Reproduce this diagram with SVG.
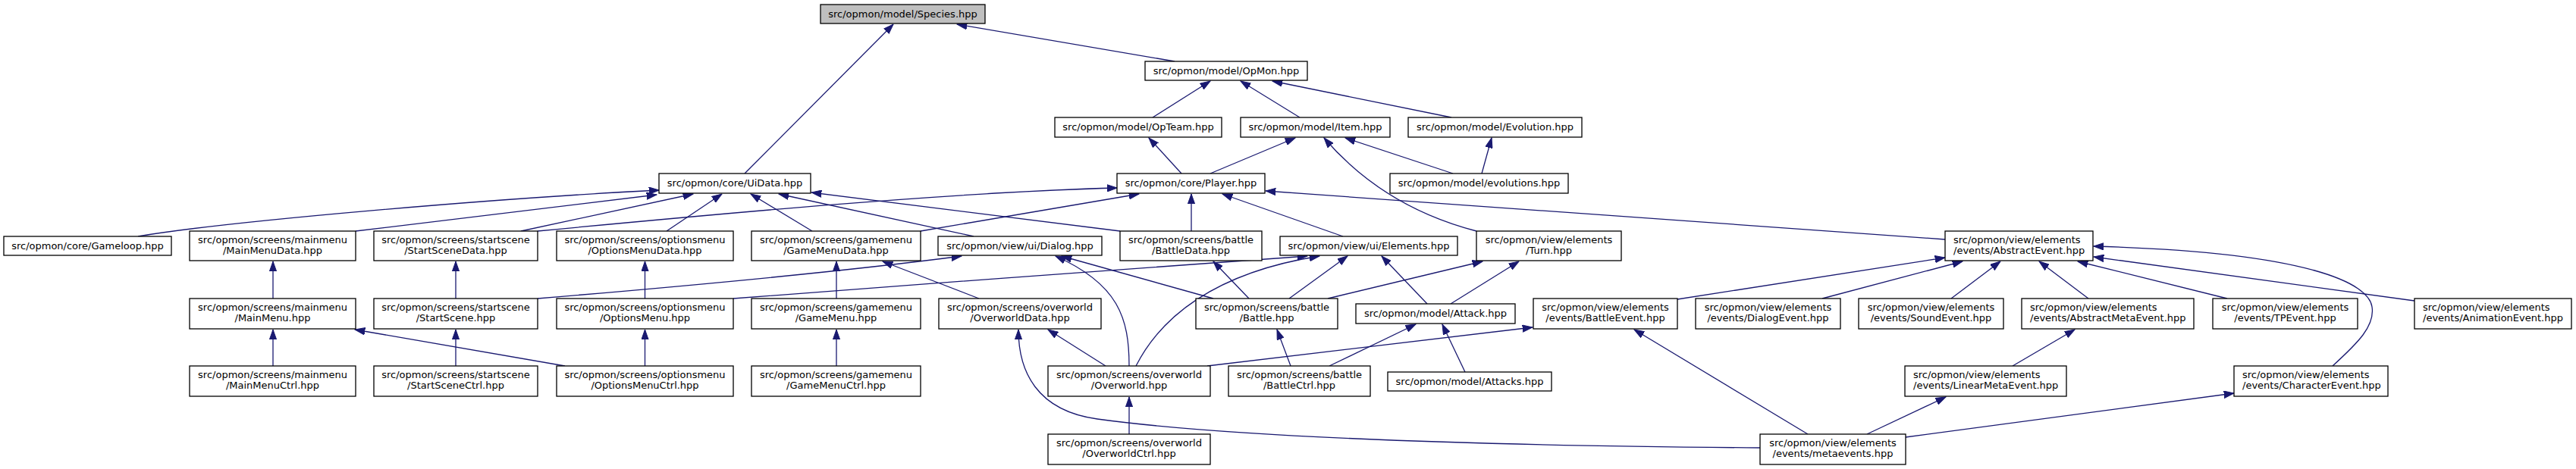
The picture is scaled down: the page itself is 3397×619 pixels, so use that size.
<svg xmlns="http://www.w3.org/2000/svg" width="3397" height="619" viewBox="0 0 3397 619">
<style>
.n rect{fill:#fff;stroke:#000;stroke-width:1.3}
.n text{font-family:"DejaVu Sans",sans-serif;font-size:13px;fill:#000}
.c{text-anchor:middle}
.e path{fill:none;stroke:#191970;stroke-width:1.3;marker-end:url(#a)}
</style>
<defs>
<marker id="a" markerUnits="userSpaceOnUse" viewBox="0 -5 14 10" markerWidth="14" markerHeight="10" refX="13.3" refY="0" orient="auto">
<path d="M0,-4.7 L13.3,0 L0,4.7 Z" fill="#191970" stroke="#191970" stroke-width="1"/>
</marker>
</defs>
<rect width="3397" height="619" fill="#fff"/>
<g id="edges" class="e">
<path d="M982,229 L1178,32"/>
<path d="M1549,81 L1262,32"/>
<path d="M1520,155 L1596,107"/>
<path d="M1714,155 L1636,107"/>
<path d="M1914,155 L1678,107"/>
<path d="M1558,229 L1515,182"/>
<path d="M1596,229 L1708,182"/>
<path d="M1916,229 L1774,182"/>
<path d="M1954,229 L1967,182"/>
<path d="M1947,305 C1870,285 1800,245 1746,182"/>
<path d="M2565,316 L1669,252"/>
<path d="M182,312 C300,292 650,262 869,251"/>
<path d="M469,305 L866,257"/>
<path d="M687,305 L914,256"/>
<path d="M879,305 L952,256"/>
<path d="M1071,305 L990,256"/>
<path d="M1284,312 L1027,256"/>
<path d="M1477,305 L1070,254"/>
<path d="M709,305 C950,282 1250,254 1473,248"/>
<path d="M1214,305 L1502,256"/>
<path d="M1571,305 L1571,256"/>
<path d="M1771,312 L1612,256"/>
<path d="M1103,394 L1103,345"/>
<path d="M1291,394 L1164,345"/>
<path d="M360,394 L360,345"/>
<path d="M360,483 L360,435"/>
<path d="M745,483 L468,435"/>
<path d="M601,394 L601,345"/>
<path d="M601,483 L601,435"/>
<path d="M850.5,394 L850.5,345"/>
<path d="M850.5,483 L850.5,435"/>
<path d="M1103,483 L1103,435"/>
<path d="M709,394 C900,378 1100,360 1268,338"/>
<path d="M967,394 C1200,375 1500,355 1724,338"/>
<path d="M1498,483 C1530,420 1600,360 1740,338"/>
<path d="M1700,394 L1777,338"/>
<path d="M1882,401 L1822,338"/>
<path d="M1600,394 L1400,338"/>
<path d="M1489,483 C1489,420 1475,375 1392,338"/>
<path d="M1751,394 L1955,345"/>
<path d="M1913,401 L2003,345"/>
<path d="M1647,394 L1600,345"/>
<path d="M1458,483 L1382,435"/>
<path d="M2321,591 C1900,588 1600,574 1447,553 C1367,542 1343,490 1343,435"/>
<path d="M1489,573 L1489,524"/>
<path d="M1592,483 L2021,432"/>
<path d="M1702,483 L1684,435"/>
<path d="M1753,483 L1867,428"/>
<path d="M1932,491 L1902,428"/>
<path d="M2384,573 L2155,435"/>
<path d="M2212,395 L2565,340"/>
<path d="M2403,394 L2588,345"/>
<path d="M2573,394 L2638,345"/>
<path d="M2754,394 L2689,345"/>
<path d="M2937,394 L2740,345"/>
<path d="M3184,397 L2761,339"/>
<path d="M3076,483 C3110,452 3132,430 3128,405 C3124,375 3050,333 2761,325"/>
<path d="M2654,483 L2736,435"/>
<path d="M2462,573 L2566,524"/>
<path d="M2513,577 L2946,519"/>
</g>
<g id="species" class="n"><rect x="1082" y="6" width="217" height="25" style="fill:#bfbfbf"/><text class="c" x="1190.5" y="23">src/opmon/model/Species.hpp</text></g>
<g id="opmon" class="n"><rect x="1510" y="81" width="214" height="25"/><text class="c" x="1617" y="98">src/opmon/model/OpMon.hpp</text></g>
<g id="opteam" class="n"><rect x="1391" y="155" width="220" height="26"/><text class="c" x="1501" y="172">src/opmon/model/OpTeam.hpp</text></g>
<g id="item" class="n"><rect x="1636" y="155" width="197" height="26"/><text class="c" x="1734.5" y="172">src/opmon/model/Item.hpp</text></g>
<g id="evolution" class="n"><rect x="1857" y="155" width="229" height="26"/><text class="c" x="1971.5" y="172">src/opmon/model/Evolution.hpp</text></g>
<g id="uidata" class="n"><rect x="869" y="229" width="200" height="26"/><text class="c" x="969" y="246">src/opmon/core/UiData.hpp</text></g>
<g id="player" class="n"><rect x="1473" y="229" width="195" height="26"/><text class="c" x="1570.5" y="246">src/opmon/core/Player.hpp</text></g>
<g id="evolutions" class="n"><rect x="1833" y="229" width="235" height="26"/><text class="c" x="1950.5" y="246">src/opmon/model/evolutions.hpp</text></g>
<g id="gameloop" class="n"><rect x="5" y="312" width="221" height="25"/><text class="c" x="115.5" y="329">src/opmon/core/Gameloop.hpp</text></g>
<g id="mainmenudata" class="n"><rect x="250" y="305" width="219" height="39"/><text class="c" x="359.5" y="320.7">src/opmon/screens/mainmenu</text><text class="c" x="359.5" y="335.3">/MainMenuData.hpp</text></g>
<g id="startscenedata" class="n"><rect x="493" y="305" width="216" height="39"/><text class="c" x="601" y="320.7">src/opmon/screens/startscene</text><text class="c" x="601" y="335.3">/StartSceneData.hpp</text></g>
<g id="optionsmenudata" class="n"><rect x="734" y="305" width="233" height="39"/><text class="c" x="850.5" y="320.7">src/opmon/screens/optionsmenu</text><text class="c" x="850.5" y="335.3">/OptionsMenuData.hpp</text></g>
<g id="gamemenudata" class="n"><rect x="991" y="305" width="223" height="39"/><text class="c" x="1102.5" y="320.7">src/opmon/screens/gamemenu</text><text class="c" x="1102.5" y="335.3">/GameMenuData.hpp</text></g>
<g id="dialog" class="n"><rect x="1237" y="312" width="216" height="25"/><text class="c" x="1345" y="329">src/opmon/view/ui/Dialog.hpp</text></g>
<g id="battledata" class="n"><rect x="1477" y="305" width="187" height="39"/><text class="c" x="1570.5" y="320.7">src/opmon/screens/battle</text><text class="c" x="1570.5" y="335.3">/BattleData.hpp</text></g>
<g id="elements" class="n"><rect x="1688" y="312" width="234" height="25"/><text class="c" x="1805" y="329">src/opmon/view/ui/Elements.hpp</text></g>
<g id="turn" class="n"><rect x="1947" y="305" width="191" height="39"/><text class="c" x="2042.5" y="320.7">src/opmon/view/elements</text><text class="c" x="2042.5" y="335.3">/Turn.hpp</text></g>
<g id="abstractevent" class="n"><rect x="2565" y="305" width="195" height="39"/><text x="2576" y="320.7">src/opmon/view/elements</text><text x="2576" y="335.3">/events/AbstractEvent.hpp</text></g>
<g id="mainmenu" class="n"><rect x="250" y="394" width="219" height="40"/><text class="c" x="359.5" y="409.7">src/opmon/screens/mainmenu</text><text class="c" x="359.5" y="424.3">/MainMenu.hpp</text></g>
<g id="startscene" class="n"><rect x="493" y="394" width="216" height="40"/><text class="c" x="601" y="409.7">src/opmon/screens/startscene</text><text class="c" x="601" y="424.3">/StartScene.hpp</text></g>
<g id="optionsmenu" class="n"><rect x="734" y="394" width="233" height="40"/><text class="c" x="850.5" y="409.7">src/opmon/screens/optionsmenu</text><text class="c" x="850.5" y="424.3">/OptionsMenu.hpp</text></g>
<g id="gamemenu" class="n"><rect x="991" y="394" width="223" height="40"/><text class="c" x="1102.5" y="409.7">src/opmon/screens/gamemenu</text><text class="c" x="1102.5" y="424.3">/GameMenu.hpp</text></g>
<g id="overworlddata" class="n"><rect x="1238" y="394" width="214" height="40"/><text class="c" x="1345" y="409.7">src/opmon/screens/overworld</text><text class="c" x="1345" y="424.3">/OverworldData.hpp</text></g>
<g id="battle" class="n"><rect x="1577" y="394" width="187" height="40"/><text class="c" x="1670.5" y="409.7">src/opmon/screens/battle</text><text class="c" x="1670.5" y="424.3">/Battle.hpp</text></g>
<g id="attack" class="n"><rect x="1788" y="401" width="210" height="26"/><text class="c" x="1893" y="418">src/opmon/model/Attack.hpp</text></g>
<g id="battleevent" class="n"><rect x="2022" y="394" width="190" height="40"/><text class="c" x="2117" y="409.7">src/opmon/view/elements</text><text class="c" x="2117" y="424.3">/events/BattleEvent.hpp</text></g>
<g id="dialogevent" class="n"><rect x="2236" y="394" width="191" height="40"/><text class="c" x="2331.5" y="409.7">src/opmon/view/elements</text><text class="c" x="2331.5" y="424.3">/events/DialogEvent.hpp</text></g>
<g id="soundevent" class="n"><rect x="2451" y="394" width="191" height="40"/><text class="c" x="2546.5" y="409.7">src/opmon/view/elements</text><text class="c" x="2546.5" y="424.3">/events/SoundEvent.hpp</text></g>
<g id="abstractmetaevent" class="n"><rect x="2666" y="394" width="227" height="40"/><text x="2677" y="409.7">src/opmon/view/elements</text><text x="2677" y="424.3">/events/AbstractMetaEvent.hpp</text></g>
<g id="tpevent" class="n"><rect x="2918" y="394" width="191" height="40"/><text class="c" x="3013.5" y="409.7">src/opmon/view/elements</text><text class="c" x="3013.5" y="424.3">/events/TPEvent.hpp</text></g>
<g id="animationevent" class="n"><rect x="3184" y="394" width="207" height="40"/><text x="3195" y="409.7">src/opmon/view/elements</text><text x="3195" y="424.3">/events/AnimationEvent.hpp</text></g>
<g id="mainmenuctrl" class="n"><rect x="250" y="483" width="219" height="40"/><text class="c" x="359.5" y="498.7">src/opmon/screens/mainmenu</text><text class="c" x="359.5" y="513.3">/MainMenuCtrl.hpp</text></g>
<g id="startscenectrl" class="n"><rect x="493" y="483" width="216" height="40"/><text class="c" x="601" y="498.7">src/opmon/screens/startscene</text><text class="c" x="601" y="513.3">/StartSceneCtrl.hpp</text></g>
<g id="optionsmenuctrl" class="n"><rect x="734" y="483" width="233" height="40"/><text class="c" x="850.5" y="498.7">src/opmon/screens/optionsmenu</text><text class="c" x="850.5" y="513.3">/OptionsMenuCtrl.hpp</text></g>
<g id="gamemenuctrl" class="n"><rect x="991" y="483" width="223" height="40"/><text class="c" x="1102.5" y="498.7">src/opmon/screens/gamemenu</text><text class="c" x="1102.5" y="513.3">/GameMenuCtrl.hpp</text></g>
<g id="overworld" class="n"><rect x="1382" y="483" width="214" height="40"/><text class="c" x="1489" y="498.7">src/opmon/screens/overworld</text><text class="c" x="1489" y="513.3">/Overworld.hpp</text></g>
<g id="battlectrl" class="n"><rect x="1620" y="483" width="187" height="40"/><text class="c" x="1713.5" y="498.7">src/opmon/screens/battle</text><text class="c" x="1713.5" y="513.3">/BattleCtrl.hpp</text></g>
<g id="attacks" class="n"><rect x="1830" y="491" width="216" height="25"/><text class="c" x="1938" y="508">src/opmon/model/Attacks.hpp</text></g>
<g id="linearmetaevent" class="n"><rect x="2512" y="483" width="213" height="40"/><text x="2523" y="498.7">src/opmon/view/elements</text><text x="2523" y="513.3">/events/LinearMetaEvent.hpp</text></g>
<g id="characterevent" class="n"><rect x="2946" y="483" width="203" height="40"/><text x="2957" y="498.7">src/opmon/view/elements</text><text x="2957" y="513.3">/events/CharacterEvent.hpp</text></g>
<g id="overworldctrl" class="n"><rect x="1382" y="573" width="214" height="40"/><text class="c" x="1489" y="588.7">src/opmon/screens/overworld</text><text class="c" x="1489" y="603.3">/OverworldCtrl.hpp</text></g>
<g id="metaevents" class="n"><rect x="2321" y="573" width="192" height="40"/><text class="c" x="2417" y="588.7">src/opmon/view/elements</text><text class="c" x="2417" y="603.3">/events/metaevents.hpp</text></g>
</svg>
